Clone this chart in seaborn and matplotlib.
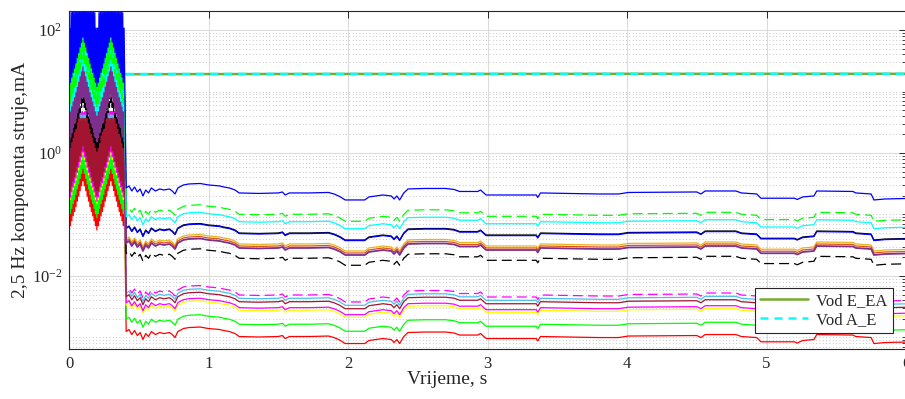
import numpy as np
import pandas as pd
import matplotlib
matplotlib.use('Agg')
import matplotlib.pyplot as plt
import matplotlib.ticker as mticker
from matplotlib.lines import Line2D
import seaborn as sns

# --- PODACI ---
# prijelazna pojava 0..0.40 s, uzorci svakih 5 ms
# (log10 faktora u odnosu na stacionarni nivo voda)
burst_t = np.linspace(0.0, 0.40, 81)
burst_log = [0.30, 2.60, 1.72, 2.85, 1.80, 2.90, 1.88, 2.90, 1.95, 2.90,
             2.03, 2.90, 2.12, 2.90, 2.20, 2.90, 2.29, 2.90, 2.37, 2.90,
             2.45, 2.90, 2.37, 2.90, 2.29, 2.90, 2.20, 2.90, 2.12, 2.90,
             2.03, 2.90, 1.95, 2.90, 1.88, 2.90, 1.80, 2.85, 1.72, 2.60,
             1.65, 2.60, 1.72, 2.85, 1.80, 2.90, 1.88, 2.90, 1.95, 2.90,
             2.03, 2.90, 2.12, 2.90, 2.20, 2.90, 2.29, 2.90, 2.37, 2.90,
             2.45, 2.90, 2.37, 2.90, 2.29, 2.90, 2.20, 2.90, 2.12, 2.90,
             2.03, 2.90, 1.95, 2.90, 1.88, 2.90, 1.80, 2.85, 1.72, 2.60, 1.65]

# zajednicki oblik stacionarnog dijela (log10, odnos prema nivou u t=0.41 s)
steady_t = [0.41, 0.43, 0.45, 0.47, 0.49, 0.51, 0.53, 0.55, 0.57, 0.59,
            0.62, 0.65, 0.68, 0.72, 0.74, 0.76, 0.78, 0.82, 0.86, 0.94,
            1.00, 1.08, 1.11, 1.15, 1.19, 1.22, 1.36, 1.50, 1.53, 1.55,
            1.58, 1.72, 1.86, 1.90, 1.94, 1.98, 2.12, 2.15, 2.20, 2.25,
            2.31, 2.33, 2.35, 2.37, 2.40, 2.43, 2.55, 2.70, 2.76, 2.80,
            2.93, 2.95, 2.99, 3.23, 3.35, 3.36, 3.38, 3.80, 3.94, 4.01,
            4.50, 4.53, 4.56, 4.78, 4.82, 4.93, 4.96, 5.20, 5.22, 5.26,
            5.34, 5.36, 5.62, 5.64, 5.75, 5.77, 5.85, 6.00]
steady_log = [0.000, 0.033, -0.049, 0.016, -0.065, -0.016, -0.130, -0.033, -0.081, 0.000,
              -0.049, -0.016, -0.033, -0.016, -0.049, -0.098, 0.000, 0.049, 0.065, 0.073,
              0.049, 0.033, 0.016, 0.000, -0.033, -0.081, -0.089, -0.081, -0.065, -0.114,
              -0.081, -0.081, -0.073, -0.098, -0.138, -0.195, -0.195, -0.146, -0.130, -0.114,
              -0.130, -0.179, -0.130, -0.195, -0.081, -0.016, -0.008, -0.008, -0.024, -0.057,
              -0.057, -0.033, -0.114, -0.114, -0.114, -0.154, -0.081, -0.098, -0.098, -0.073,
              -0.065, -0.098, -0.049, -0.049, -0.081, -0.098, -0.167, -0.167, -0.187, -0.146,
              -0.130, -0.049, -0.057, -0.081, -0.098, -0.195, -0.179, -0.171]

# nivoi pojedinih vodova (mA) u t=0.41 s, redom kojim se crtaju
nivoi = [0.00125, 0.00198, 0.00334, 0.00368, 0.00592, 0.00523, 0.0046,
         0.0234, 0.040, 0.0371, 0.0603, 0.059, 0.0344, 0.092, 0.1215, 0.270]
boje = ['#FF0000', '#00FF00', '#FFFF00', '#FF00FF', '#FF00FF', '#4DBEEE', '#A2142F',
        '#000000', '#EDB120', '#D95319', '#000000', '#0000FF', '#7E2F8E', '#00FFFF',
        '#00FF00', '#0000FF']
crtkano = [False, False, False, False, True, False, False,
           True, False, False, False, False, False, False,
           True, False]

# vodovi iz legende
leg_t = [0.41, 1.0, 2.0, 3.0, 4.0, 5.0, 6.0]
vod_e_ea = [19.1, 19.2, 19.3, 19.3, 19.4, 19.4, 19.4]
vod_a_e = [19.2, 19.3, 19.3, 19.4, 19.4, 19.4, 19.4]

# --- CRTANJE ---
sns.set_theme(style='white')
plt.rcParams['font.family'] = ['Liberation Serif', 'DejaVu Serif']
plt.rcParams['mathtext.fontset'] = 'stix'

fig = plt.figure(figsize=(9.05, 3.99), dpi=100)
ax = fig.add_axes([69 / 905, 50 / 399, 837 / 905, 338.3 / 399])

t_all = np.concatenate([burst_t, steady_t])
for nivo, boja, crt in zip(nivoi, boje, crtkano):
    y = nivo * 10 ** np.array(burst_log + steady_log)
    ls = (0, (8, 4)) if crt else '-'
    lw = 1.3 if boja == '#7E2F8E' else 0.9
    sns.lineplot(x=t_all, y=y, ax=ax, color=boja, linewidth=lw, linestyle=ls,
                 estimator=None, sort=False, legend=False)

sns.lineplot(x=leg_t, y=vod_e_ea, ax=ax, color='#77AC30', linewidth=1.8,
             estimator=None, legend=False)
sns.lineplot(x=leg_t, y=vod_a_e, ax=ax, color='#00FFFF', linewidth=1.8,
             linestyle=(0, (3.2, 2.4)), estimator=None, legend=False)

ax.set_yscale('log')
ax.set_xlim(0, 6)
ax.set_ylim(6.5e-4, 206)

ax.xaxis.set_major_locator(mticker.FixedLocator([0, 1, 2, 3, 4, 5, 6]))
ax.yaxis.set_major_locator(mticker.FixedLocator([1e-2, 1, 1e2]))
ax.yaxis.set_major_formatter(mticker.LogFormatterMathtext())
minor = [k * 10.0 ** e for e in range(-4, 3) for k in range(1, 10)
         if not (k == 1 and e in (-2, 0, 2))]
ax.yaxis.set_minor_locator(mticker.FixedLocator(minor))
ax.yaxis.set_minor_formatter(mticker.NullFormatter())

ax.grid(True, which='major', color='#dcdcdc', linewidth=0.8, linestyle='-')
ax.grid(True, which='minor', axis='y', color='#b5b5b5', linewidth=0.6,
        linestyle=(0, (1, 3)))
ax.set_axisbelow(True)

ax.tick_params(which='both', direction='in', top=True, right=True,
               labelsize=12, colors='#262626', pad=5)
ax.tick_params(which='major', length=5, width=0.7)
ax.tick_params(which='minor', length=3, width=0.6)
for s in ax.spines.values():
    s.set_color('#262626')
    s.set_linewidth(0.8)

ax.set_xlabel('Vrijeme, s', fontsize=14, color='#262626')
ax.xaxis.set_label_coords((447 - 69) / 837, -0.065)
ax.set_ylabel('2,5 Hz komponenta struje,mA', fontsize=14, color='#262626', labelpad=2)

handles = [Line2D([], [], color='#77AC30', linewidth=1.8),
           Line2D([], [], color='#00FFFF', linewidth=1.8, linestyle=(0, (3.2, 2.4)))]
leg = ax.legend(handles, ['Vod E_EA', 'Vod A_E'], loc='lower right',
                bbox_to_anchor=(0.984, 0.047), fontsize=12, fancybox=False,
                framealpha=1, edgecolor='#262626', handlelength=2.9,
                borderpad=0.3, labelspacing=0.2, handletextpad=0.5,
                borderaxespad=0)
leg.get_frame().set_linewidth(0.8)

fig.savefig('out.png', dpi=100)
